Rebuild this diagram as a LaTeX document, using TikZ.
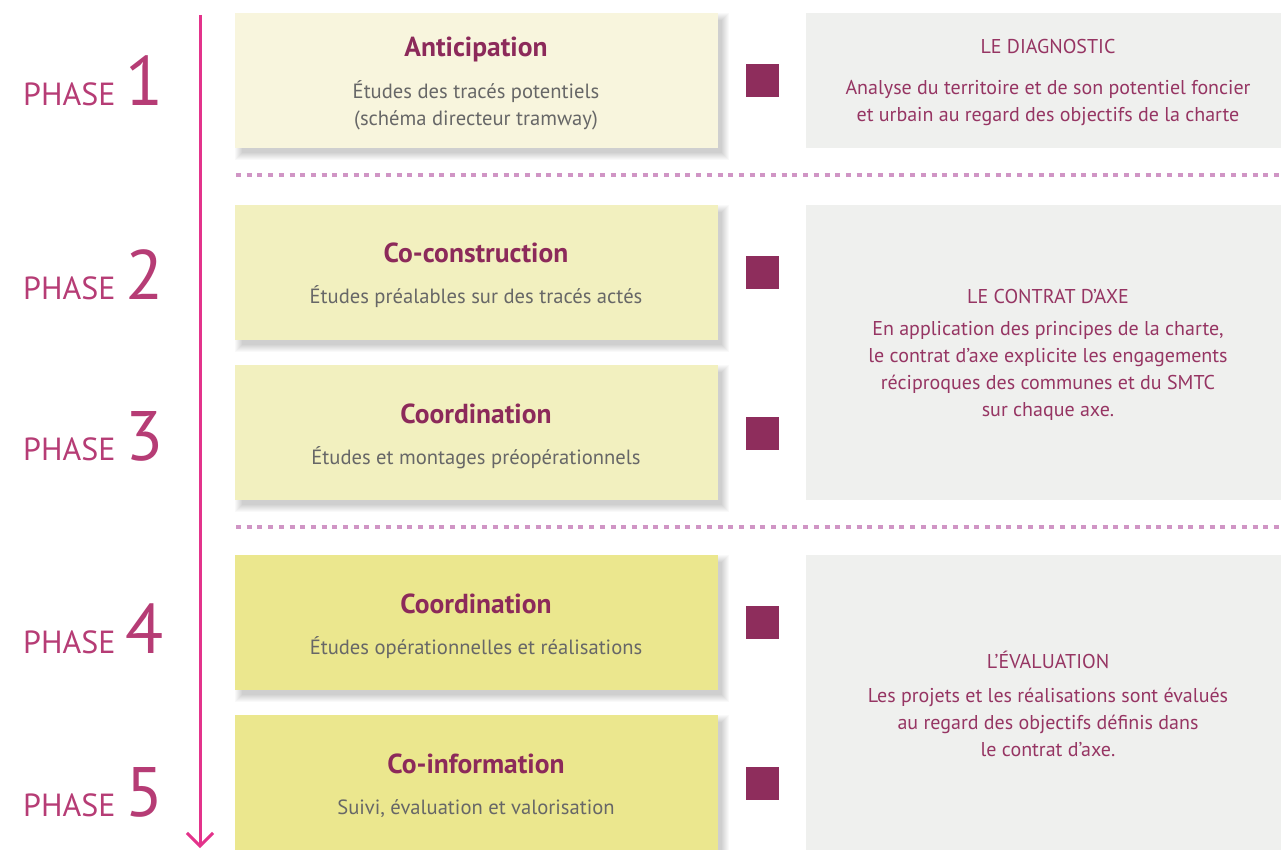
\documentclass[tikz,border=0pt]{standalone}
\usepackage{fontspec}
\setmainfont{PT Sans}
\usetikzlibrary{arrows.meta}
\definecolor{arrowpink}{HTML}{E3338B}
\definecolor{phasecol}{HTML}{B63C75}
\definecolor{titlecol}{HTML}{8C2A5A}
\definecolor{sqcol}{HTML}{8E2D5C}
\definecolor{subcol}{HTML}{676767}
\definecolor{rightcol}{HTML}{963563}
\definecolor{boxA}{HTML}{F8F5DD}
\definecolor{boxB}{HTML}{F2F0BF}
\definecolor{boxC}{HTML}{EBE78E}
\definecolor{rbox}{HTML}{EFF0EE}
\definecolor{dotcol}{HTML}{D095C5}
\tikzset{
  lbox/.style={rectangle, inner sep=0pt, minimum width=483pt, minimum height=135pt},
  rboxstyle/.style={rectangle, inner sep=0pt, fill=rbox, minimum width=484pt},
  marker/.style={rectangle, inner sep=0pt, fill=sqcol, minimum width=33pt, minimum height=33pt},
  titletext/.style={font=\fontsize{27.5}{30}\selectfont\bfseries, text=titlecol, anchor=base, inner sep=0pt},
  subtext/.style={font=\fontsize{20.6}{27}\selectfont, text=subcol, anchor=base, inner sep=0pt, align=center},
  rtitle/.style={font=\fontsize{20}{27}\selectfont, text=rightcol, anchor=base, inner sep=0pt},
  rtext/.style={font=\fontsize{20}{27}\selectfont, text=rightcol, anchor=center, inner sep=0pt, align=center},
  phaseword/.style={font=\fontsize{32}{32}\selectfont, text=phasecol, anchor=base west, inner sep=0pt},
  phasenum/.style={font=\fontsize{70}{70}\selectfont, text=phasecol, anchor=base west, inner sep=0pt},
  sepline/.style={draw=dotcol, line width=4.5pt, dash pattern=on 5pt off 5.7pt},
  timeline/.style={draw=arrowpink, line width=3pt, -{Straight Barb[length=13pt,width=26pt,line width=3pt]}}
}
\newcommand{\softshadow}[1]{%
  \foreach \r in {0,1,...,7}{%
    \fill[black, opacity=0.022] ([shift={(7-\r,7-\r)}]#1.north west) rectangle ([shift={(4+\r,5+\r)}]#1.south east);
  }%
}
\begin{document}
\begin{tikzpicture}[x=1pt,y=-1pt]
\useasboundingbox (0,0) rectangle (1281,850);
\fill[white] (0,0) rectangle (1281,850);

% left boxes
\coordinate (p1) at (476.5,80.5);
\coordinate (p2) at (476.5,272.5);
\coordinate (p3) at (476.5,432.5);
\coordinate (p4) at (476.5,622.5);
\coordinate (p5) at (476.5,782.5);
\node[lbox] (b1s) at (p1) {};
\node[lbox] (b2s) at (p2) {};
\node[lbox] (b3s) at (p3) {};
\node[lbox] (b4s) at (p4) {};
\node[lbox] (b5s) at (p5) {};
\softshadow{b1s}
\softshadow{b2s}
\softshadow{b3s}
\softshadow{b4s}
\softshadow{b5s}
\node[lbox, fill=boxA] (b1) at (p1) {};
\node[lbox, fill=boxB] (b2) at (p2) {};
\node[lbox, fill=boxB] (b3) at (p3) {};
\node[lbox, fill=boxC] (b4) at (p4) {};
\node[lbox, fill=boxC] (b5) at (p5) {};

% right boxes
\node[rboxstyle, minimum height=135pt] (r1) at (1048,80.5) {};
\node[rboxstyle, minimum height=295pt] (r2) at (1048,352.5) {};
\node[rboxstyle, minimum height=300pt] (r3) at (1048,705) {};

% separators
\coordinate (s1a) at (236,175);
\coordinate (s1b) at (1285,175);
\coordinate (s2a) at (236,527);
\coordinate (s2b) at (1285,527);
\draw[sepline] (s1a) -- (s1b);
\draw[sepline] (s2a) -- (s2b);

% timeline
\coordinate (ta) at (200,15);
\coordinate (tb) at (200,848);
\draw[timeline] (ta) -- (tb);

% markers
\node[marker] (m1) at (762.5,80.5) {};
\node[marker] (m2) at (762.5,272.5) {};
\node[marker] (m3) at (762.5,433.5) {};
\node[marker] (m4) at (762.5,622.5) {};
\node[marker] (m5) at (762.5,783.5) {};

% phase labels
\node[phaseword] (ph1) at (23,106) {PHASE};
\node[phasenum] (n1) at (125,106) {1};
\node[phaseword] (ph2) at (23,299) {PHASE};
\node[phasenum] (n2) at (125,299) {2};
\node[phaseword] (ph3) at (23,460) {PHASE};
\node[phasenum] (n3) at (125,460) {3};
\node[phaseword] (ph4) at (23,653) {PHASE};
\node[phasenum] (n4) at (125,653) {4};
\node[phaseword] (ph5) at (23,816) {PHASE};
\node[phasenum] (n5) at (125,816) {5};

% left texts
\node[titletext] (t1) at (476,57) {Anticipation};
\node[subtext, anchor=center] (u1) at (476,105) {Études des tracés potentiels\\(schéma directeur tramway)};
\node[titletext] (t2) at (476,262) {Co-construction};
\node[subtext] (u2) at (476,303) {Études préalables sur des tracés actés};
\node[titletext] (t3) at (476,423) {Coordination};
\node[subtext] (u3) at (476,464) {Études et montages préopérationnels};
\node[titletext] (t4) at (476,613) {Coordination};
\node[subtext] (u4) at (476,654) {Études opérationnelles et réalisations};
\node[titletext] (t5) at (476,773) {Co-information};
\node[subtext] (u5) at (476,814) {Suivi, évaluation et valorisation};

% right texts
\node[rtitle] (rt1) at (1048,54) {LE DIAGNOSTIC};
\node[rtext] (rx1) at (1048,103) {Analyse du territoire et de son potentiel foncier\\et urbain au regard des objectifs de la charte};
\node[rtitle] (rt2) at (1048,303) {LE CONTRAT D’AXE};
\node[rtext] (rx2) at (1048,371) {En application des principes de la charte,\\le contrat d’axe explicite les engagements\\réciproques des communes et du SMTC\\sur chaque axe.};
\node[rtitle] (rt3) at (1048,668) {L’ÉVALUATION};
\node[rtext] (rx3) at (1048,722) {Les projets et les réalisations sont évalués\\au regard des objectifs définis dans\\le contrat d’axe.};
\end{tikzpicture}
\end{document}
